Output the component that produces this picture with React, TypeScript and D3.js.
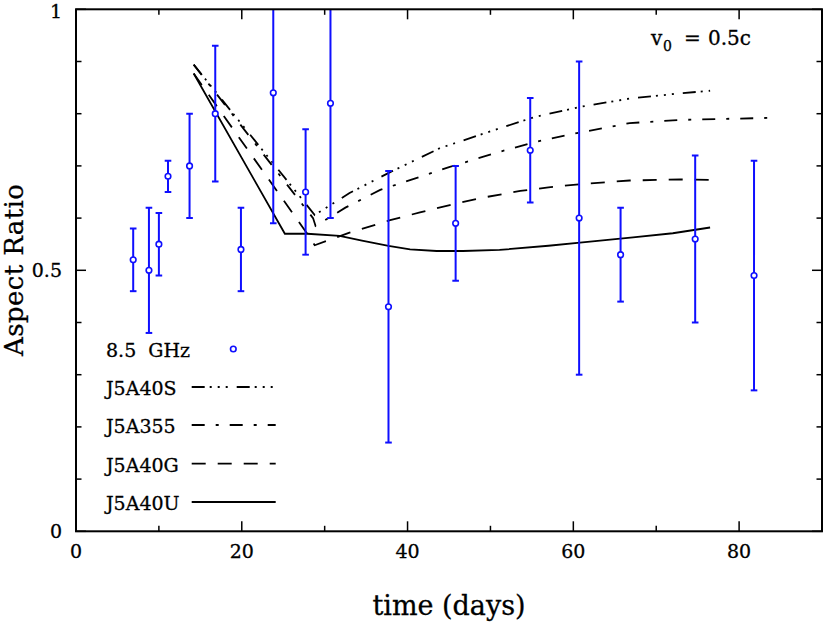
import React from "react";
import * as d3 from "d3";

const W = 825;
const H = 623;

// observations (8.5 GHz)
const days = [6.9, 8.8, 10.0, 11.1, 13.7, 16.8, 19.9, 23.8, 27.7, 30.7, 37.7, 45.8, 54.8, 60.7, 65.7, 74.7, 81.8];
const ratio = [0.52, 0.50, 0.55, 0.68, 0.70, 0.80, 0.54, 0.84, 0.65, 0.82, 0.43, 0.59, 0.73, 0.60, 0.53, 0.56, 0.49];
const errLow = [0.46, 0.38, 0.49, 0.65, 0.60, 0.67, 0.46, 0.59, 0.53, 0.60, 0.17, 0.48, 0.63, 0.30, 0.44, 0.40, 0.27];
const errHigh = [0.58, 0.62, 0.61, 0.71, 0.80, 0.93, 0.62, 1.09, 0.77, 1.04, 0.69, 0.70, 0.83, 0.90, 0.62, 0.72, 0.71];

// model curves [day, ratio]
const J5A40S: [number, number][] = [
  [14.2, 0.894], [28.8, 0.606], [33, 0.648], [37.9, 0.688], [43.9, 0.734], [51.1, 0.772],
  [55.4, 0.794], [60.8, 0.813], [66.8, 0.829], [72.9, 0.839], [76.5, 0.844],
];
const J5A355: [number, number][] = [
  [14.2, 0.894], [28.6, 0.6], [28.9, 0.585], [32.5, 0.62], [36.7, 0.654], [45.1, 0.698], [51.1, 0.727],
  [55.4, 0.746], [60.8, 0.764], [66.8, 0.782], [72.9, 0.788], [78, 0.79], [83.7, 0.792],
];
const J5A40G: [number, number][] = [
  [14.2, 0.877], [27.9, 0.57], [28.8, 0.548], [33, 0.572], [37.9, 0.596], [41.5, 0.611], [45.1, 0.625],
  [49, 0.639], [53.6, 0.652], [57, 0.659], [60.8, 0.665], [66.8, 0.672], [72.9, 0.674], [76.5, 0.673],
];
const J5A40U: [number, number][] = [
  [14.2, 0.877], [25.2, 0.57], [27.9, 0.57], [31.8, 0.566], [34.5, 0.557], [37.7, 0.547], [40.3, 0.54],
  [43.5, 0.537], [46.7, 0.537], [51.1, 0.539], [57, 0.547], [60.8, 0.553], [67.2, 0.563], [72, 0.571], [76.5, 0.582],
];

const xMajor = [0, 20, 40, 60, 80];
const xTickLabels = ["0", "20", "40", "60", "80"];
const yMajor = [0, 0.5, 1];
const yTickLabels = ["0", "0.5", "1"];

const seriesNames = ["J5A40S", "J5A355", "J5A40G", "J5A40U"];
const dashes = ["13 5 2 6 2 6 2 9", "13 11 3 11", "14 12", "none"];
const curves = [J5A40S, J5A355, J5A40G, J5A40U];

const FONT = "'DejaVu Serif', serif";
const BLUE = "#0f0fff";

export default function App() {
  const x = d3.scaleLinear().domain([0, 90]).range([76, 822]);
  const y = d3.scaleLinear().domain([0, 1]).range([531.3, 9.3]);
  const [x0, x1] = x.range();
  const [y0, y1] = y.range();
  const xMinor = x.ticks(9).filter((t) => !xMajor.includes(t));
  const yMinor = y.ticks(10).filter((t) => !yMajor.some((m) => Math.abs(m - t) < 1e-9));
  const line = d3
    .line<[number, number]>()
    .x((d) => x(d[0]))
    .y((d) => y(d[1]));

  const legendY = [357, 395, 433, 471.7, 510];
  const textStroke = { stroke: "#000", strokeWidth: 0.3 };

  return (
    <svg
      width={W}
      height={H}
      style={{ position: "absolute", left: 0, top: 0, background: "#fff" }}
      fontFamily={FONT}
    >
      <defs>
        <clipPath id="plot">
          <rect x={x0} y={y1} width={x1 - x0} height={y0 - y1} />
        </clipPath>
      </defs>
      <rect width={W} height={H} fill="#fff" />

      {/* model curves */}
      <g clipPath="url(#plot)" fill="none" stroke="#000" strokeWidth={1.8}>
        {curves.map((c, i) => (
          <path key={i} d={line(c) || ""} strokeDasharray={dashes[i]} />
        ))}
      </g>

      {/* data */}
      <g clipPath="url(#plot)" stroke={BLUE} fill="none">
        {days.map((d, i) => (
          <g key={i}>
            <line x1={x(d)} x2={x(d)} y1={y(errLow[i])} y2={y(errHigh[i])} strokeWidth={2} />
            <line x1={x(d) - 3.3} x2={x(d) + 3.3} y1={y(errLow[i])} y2={y(errLow[i])} strokeWidth={2} />
            <line x1={x(d) - 3.3} x2={x(d) + 3.3} y1={y(errHigh[i])} y2={y(errHigh[i])} strokeWidth={2} />
            <circle cx={x(d)} cy={y(ratio[i])} r={2.8} strokeWidth={1.6} fill="#fff" />
          </g>
        ))}
      </g>

      {/* frame */}
      <rect x={x0} y={y1} width={x1 - x0} height={y0 - y1} fill="none" stroke="#000" strokeWidth={2} />

      {/* ticks */}
      <g stroke="#000" strokeWidth={1.5}>
        {xMajor.map((t) => (
          <g key={"xM" + t}>
            <line x1={x(t)} x2={x(t)} y1={y0} y2={y0 - 10} />
            <line x1={x(t)} x2={x(t)} y1={y1} y2={y1 + 10} />
          </g>
        ))}
        {xMinor.map((t) => (
          <g key={"xm" + t}>
            <line x1={x(t)} x2={x(t)} y1={y0} y2={y0 - 5.5} />
            <line x1={x(t)} x2={x(t)} y1={y1} y2={y1 + 5.5} />
          </g>
        ))}
        {yMajor.map((t) => (
          <g key={"yM" + t}>
            <line x1={x0} x2={x0 + 10} y1={y(t)} y2={y(t)} />
            <line x1={x1} x2={x1 - 10} y1={y(t)} y2={y(t)} />
          </g>
        ))}
        {yMinor.map((t) => (
          <g key={"ym" + t}>
            <line x1={x0} x2={x0 + 5.5} y1={y(t)} y2={y(t)} />
            <line x1={x1} x2={x1 - 5.5} y1={y(t)} y2={y(t)} />
          </g>
        ))}
      </g>

      {/* tick labels */}
      <g fontSize={19} fill="#000" {...textStroke}>
        {xMajor.map((t, i) => (
          <text key={"xl" + t} x={x(t)} y={558} textAnchor="middle">
            {xTickLabels[i]}
          </text>
        ))}
        {yMajor.map((t, i) => (
          <text key={"yl" + t} x={62} y={Math.max(y(t) + 7, 18)} textAnchor="end">
            {yTickLabels[i]}
          </text>
        ))}
      </g>

      {/* axis titles */}
      <text x={449} y={615} textAnchor="middle" fontSize={27} {...textStroke}>
        time (days)
      </text>
      <text
        transform="translate(23,270) rotate(-90)"
        textAnchor="middle"
        fontSize={26}
        textLength={172}
        lengthAdjust="spacing"
        {...textStroke}
      >
        Aspect Ratio
      </text>

      {/* annotation */}
      <g fontSize={20} {...textStroke}>
        <text x={651} y={45}>v</text>
        <text x={663} y={51} fontSize={14}>0</text>
        <text x={684} y={45}>=</text>
        <text x={708} y={45}>0.5c</text>
      </g>

      {/* legend */}
      <g fontSize={19}>
        <text x={106} y={legendY[0]} style={{ whiteSpace: "pre" }} {...textStroke}>
          {"8.5  GHz"}
        </text>
        <circle cx={233.3} cy={legendY[0] - 8} r={2.8} stroke={BLUE} strokeWidth={1.6} fill="#fff" />
        {seriesNames.map((n, i) => (
          <g key={n}>
            <text x={106} y={legendY[i + 1]} {...textStroke}>
              {n}
            </text>
            <line
              x1={191.7}
              x2={275.7}
              y1={legendY[i + 1] - 8}
              y2={legendY[i + 1] - 8}
              stroke="#000"
              strokeWidth={1.8}
              strokeDasharray={dashes[i]}
            />
          </g>
        ))}
      </g>
    </svg>
  );
}
